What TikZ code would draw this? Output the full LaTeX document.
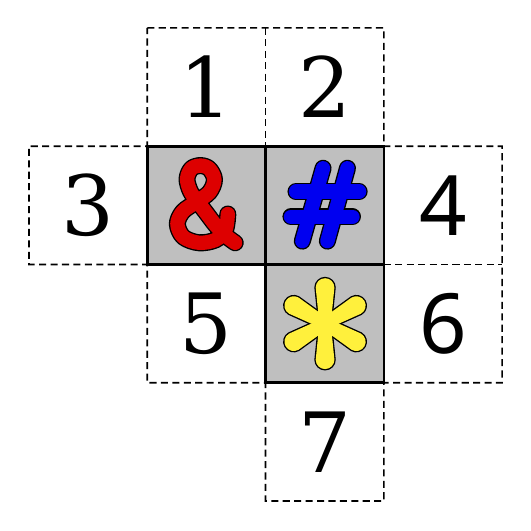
\documentclass[tikz,border=0pt]{standalone}
\usepackage{fontspec}
\setmainfont{DejaVu Serif}
\newfontfamily\digsans{Noto Sans}
\definecolor{cellgray}{HTML}{BFBFBF}
\definecolor{ampred}{HTML}{DD0000}
\definecolor{hashblue}{HTML}{0000F0}
\definecolor{staryellow}{HTML}{FFF03C}
\tikzset{
  dcell/.style={minimum size=2cm, inner sep=0pt, outer sep=0pt,
    font=\fontsize{40}{44}\selectfont},
  dline/.style={draw, dash pattern=on 3.4pt off 2.1pt, line width=0.8pt},
  gcell/.style={draw, fill=cellgray, line width=1.3pt,
    minimum size=2cm, inner sep=0pt, outer sep=0pt},
  glyphout/.style={draw=black, line width=8.2pt, line cap=round, line join=round},
  glyphin/.style={line width=6.9pt, line cap=round, line join=round},
  zoomunits/.style={x=0.16077pt, y=-0.16077pt},
}
\def\amppath{(241,203) (234,250) (205,280) (155,289) (108,272) (90,233) (106,196) (145,168) (186,138) (201,100) (186,68) (160,58) (132,67) (119,98) (129,135) (150,165) (176,199) (205,237) (235,268) (263,289)}
\begin{document}
\begin{tikzpicture}[x=2cm,y=2cm]
\useasboundingbox (-0.245,-0.253) rectangle (4.236,4.236);
% cells with numbers
\node[dcell] (c1) at (1.5,3.5) {1};
\node[dcell] (c2) at (2.5,3.5) {2};
\node[dcell] (c3) at (0.5,2.5) {3};
\node[dcell] (c4) at (3.5,2.5) {\digsans 4};
\node[dcell] (c5) at (1.5,1.5) {5};
\node[dcell] (c6) at (3.5,1.5) {\digsans 6};
\node[dcell] (c7) at (2.5,0.5) {7};
% dashed outline
\draw[dline] (c1.north west) -- (c2.north east) -- (c2.south east) -- (c4.north east)
  -- (c6.south east) -- (c7.north east) -- (c7.south east) -- (c7.south west)
  -- (c5.south east) -- (c5.south west) -- (c3.south east) -- (c3.south west)
  -- (c3.north west) -- (c1.south west) -- cycle;
\draw[dline] (c1.north east) -- (c1.south east);
\draw[dline] (c4.south west) -- (c4.south east);
% grey cells
\node[gcell] (amp) at (1.5,2.5) {};
\node[gcell] (hash) at (2.5,2.5) {};
\node[gcell] (star) at (2.5,1.5) {};
% ampersand
\begin{scope}[shift={(amp.north west)}, zoomunits]
  \draw[glyphout] plot[smooth, tension=0.55] coordinates {\amppath};
  \draw[glyphin, ampred] plot[smooth, tension=0.55] coordinates {\amppath};
\end{scope}
% hash
\begin{scope}[shift={(hash.north west)}, zoomunits]
  \foreach \p in {{(172,66) -- (110,284)}, {(245,66) -- (185,284)}, {(91,136) -- (280,136)}, {(76,211) -- (260,211)}}
    \draw[glyphout] \p;
  \foreach \p in {{(172,66) -- (110,284)}, {(245,66) -- (185,284)}, {(91,136) -- (280,136)}, {(76,211) -- (260,211)}}
    \draw[glyphin, hashblue] \p;
\end{scope}
% asterisk
\begin{scope}[shift={(star.north west)}, zoomunits]
  \begin{scope}[shift={(178,177)}]
    \foreach \a in {30,90,...,330}
      \filldraw[black, line width=1.3pt, line join=round, rotate=\a] (0,-17) -- (108,-28) arc[start angle=-90, end angle=90, radius=28] -- (0,17) -- cycle;
    \foreach \a in {30,90,...,330}
      \fill[staryellow, rotate=\a] (0,-17) -- (108,-28) arc[start angle=-90, end angle=90, radius=28] -- (0,17) -- cycle;
  \end{scope}
\end{scope}
\end{tikzpicture}
\end{document}
